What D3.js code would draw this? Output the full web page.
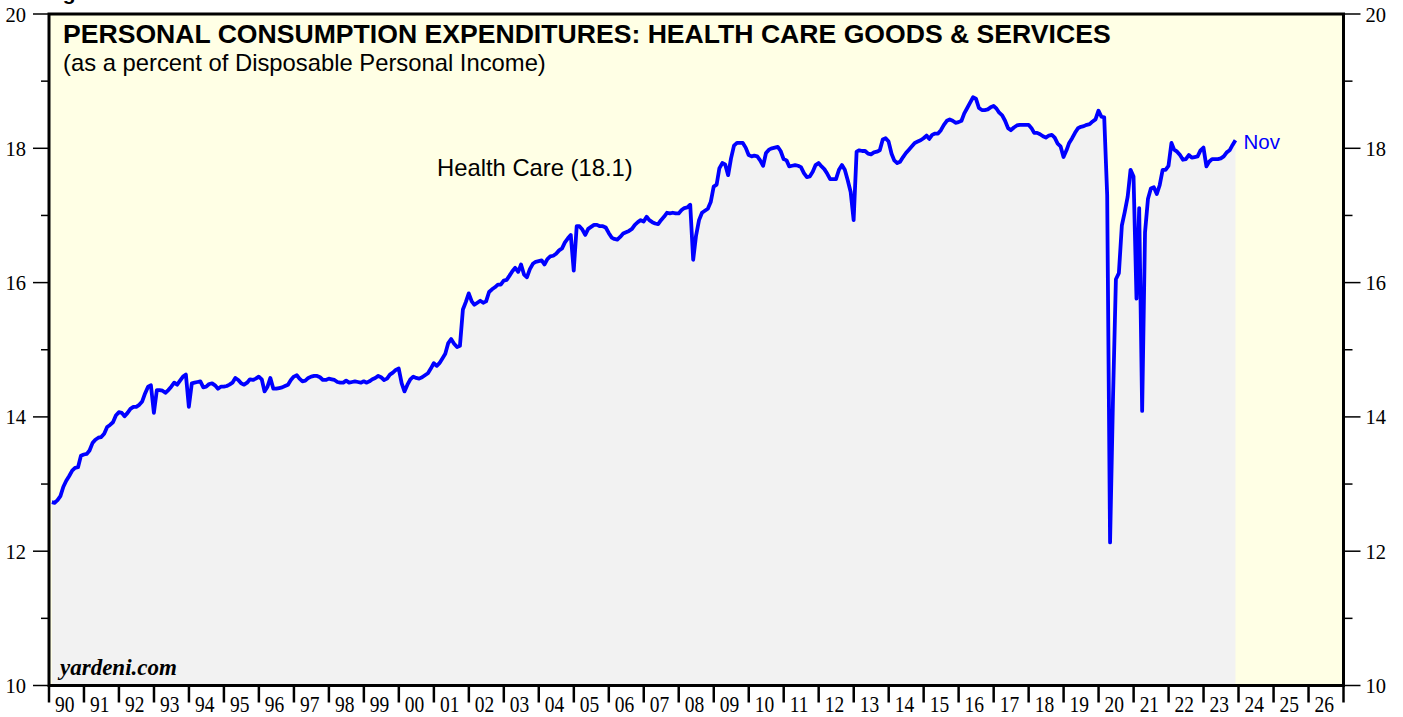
<!DOCTYPE html>
<html>
<head>
<meta charset="utf-8">
<script src="https://cdn.jsdelivr.net/npm/d3@7"></script>
<style>
  body { margin: 0; background: #fff; }
  svg text { font-family: "Liberation Sans", Arial, sans-serif; }
  svg text.serif { font-family: "Liberation Serif", "Times New Roman", serif; }
</style>
</head>
<body>
<div id="chart"></div>
<script>
// Monthly values, % of disposable personal income
var pce1990s = [
  12.73, 12.72, 12.76, 12.82, 12.96, 13.05, 13.12, 13.20, 13.24, 13.25, 13.42, 13.44,
  13.45, 13.50, 13.61, 13.66, 13.69, 13.70, 13.75, 13.85, 13.88, 13.92, 14.02, 14.07,
  14.06, 14.01, 14.06, 14.12, 14.15, 14.15, 14.18, 14.23, 14.35, 14.45, 14.47, 14.06,
  14.40, 14.40, 14.39, 14.36, 14.40, 14.45, 14.51, 14.48, 14.54, 14.60, 14.63, 14.15,
  14.50, 14.51, 14.52, 14.53, 14.44, 14.45, 14.49, 14.50, 14.47, 14.42, 14.45, 14.45,
  14.46, 14.48, 14.51, 14.58, 14.55, 14.50, 14.48, 14.51, 14.56, 14.55, 14.57, 14.60,
  14.56, 14.38, 14.45, 14.58, 14.42, 14.42, 14.43, 14.44, 14.46, 14.48, 14.55, 14.60,
  14.62, 14.57, 14.53, 14.54, 14.58, 14.60, 14.61, 14.61, 14.59, 14.55, 14.55, 14.57,
  14.56, 14.55, 14.52, 14.51, 14.51, 14.54, 14.51, 14.52, 14.53, 14.52, 14.51, 14.53,
  14.51, 14.53, 14.56, 14.58, 14.61, 14.59, 14.55, 14.57, 14.63, 14.66, 14.70, 14.72
]
var pce2000s = [
  14.50, 14.38, 14.48, 14.56, 14.60, 14.58, 14.57, 14.59, 14.62, 14.65, 14.72, 14.80,
  14.76, 14.80, 14.87, 14.94, 15.10, 15.16, 15.09, 15.04, 15.06, 15.60, 15.71, 15.84,
  15.72, 15.67, 15.70, 15.73, 15.70, 15.72, 15.86, 15.90, 15.93, 15.97, 15.97, 16.03,
  16.04, 16.10, 16.17, 16.22, 16.16, 16.27, 16.12, 16.08, 16.20, 16.28, 16.31, 16.32,
  16.33, 16.27, 16.35, 16.39, 16.40, 16.43, 16.48, 16.51, 16.60, 16.66, 16.71, 16.18,
  16.84, 16.84, 16.79, 16.71, 16.80, 16.83, 16.86, 16.86, 16.84, 16.84, 16.82, 16.74,
  16.67, 16.65, 16.64, 16.68, 16.73, 16.75, 16.77, 16.80, 16.86, 16.90, 16.93, 16.91,
  16.98, 16.93, 16.90, 16.88, 16.87, 16.93, 16.98, 17.04, 17.03, 17.04, 17.03, 17.03,
  17.08, 17.11, 17.12, 17.16, 16.34, 16.70, 16.93, 17.04, 17.07, 17.10, 17.20, 17.43,
  17.46, 17.70, 17.78, 17.76, 17.60, 17.85, 18.04, 18.08, 18.08, 18.08, 18.01, 17.90
]
var pce2010s = [
  17.88, 17.89, 17.88, 17.82, 17.74, 17.93, 17.98, 18.00, 18.01, 18.02, 17.96, 17.84,
  17.82, 17.73, 17.74, 17.75, 17.74, 17.72, 17.63, 17.57, 17.58, 17.65, 17.75, 17.78,
  17.73, 17.69, 17.62, 17.54, 17.54, 17.54, 17.68, 17.75, 17.68, 17.52, 17.35, 16.93,
  17.95, 17.97, 17.96, 17.96, 17.92, 17.91, 17.94, 17.95, 17.97, 18.13, 18.15, 18.10,
  17.92, 17.82, 17.78, 17.80, 17.87, 17.93, 17.98, 18.03, 18.08, 18.10, 18.12, 18.15,
  18.19, 18.14, 18.20, 18.22, 18.22, 18.27, 18.35, 18.41, 18.43, 18.41, 18.38, 18.39,
  18.41, 18.52, 18.60, 18.68, 18.76, 18.74, 18.60, 18.57, 18.57, 18.58, 18.61, 18.63,
  18.59, 18.53, 18.49, 18.41, 18.30, 18.27, 18.31, 18.34, 18.35, 18.35, 18.35, 18.35,
  18.30, 18.23, 18.23, 18.21, 18.18, 18.16, 18.19, 18.20, 18.16, 18.07, 18.03, 17.87,
  17.97, 18.08, 18.15, 18.23, 18.30, 18.32, 18.33, 18.35, 18.36, 18.40, 18.43, 18.56
]
var pce2020s = [
  18.47, 18.46, 17.30, 12.13, 14.30, 16.05, 16.14, 16.85, 17.05, 17.28, 17.68, 17.58,
  15.76, 17.11, 14.09, 16.75, 17.25, 17.40, 17.42, 17.32, 17.45, 17.68, 17.68, 17.74,
  18.08, 17.98, 17.95, 17.90, 17.83, 17.84, 17.90, 17.86, 17.87, 17.88, 17.97, 18.01,
  17.73, 17.80, 17.84, 17.84, 17.84, 17.85, 17.88, 17.94, 17.97, 18.05, 18.12
]
var yearTicks = d3.range(1990, 2028)
var yearLabels = d3.range(1990, 2027).map(function (yr) { return String(yr).slice(2) })
var yMajor = [10, 12, 14, 16, 18, 20]
var yMinor = [11, 13, 15, 17, 19]

var title = "PERSONAL CONSUMPTION EXPENDITURES: HEALTH CARE GOODS & SERVICES",
    subtitle = "(as a percent of Disposable Personal Income)",
    seriesLabel = "Health Care (18.1)",
    lastLabel = "Nov"

// Month-end dates starting Jan 1990
var values = pce1990s.concat(pce2000s, pce2010s, pce2020s)
var data = values.map(function (v, i) {
  return { date: new Date(1990, i + 1, 0), value: v }
})

var width = 1403, height = 717
var plotLeft = 49, plotRight = 1343.5, plotTop = 14, plotBottom = 685.5

var svg = d3.select("#chart").append("svg")
  .attr("width", width)
  .attr("height", height)

var x = d3.scaleTime()
  .domain([new Date(1990, 0, 1), new Date(2027, 0, 1)])
  .range([plotLeft, plotRight])
var y = d3.scaleLinear()
  .domain([10, 20])
  .range([plotBottom, plotTop])

svg.append("defs").append("clipPath").attr("id", "plot")
  .append("rect")
    .attr("x", plotLeft).attr("y", plotTop)
    .attr("width", plotRight - plotLeft).attr("height", plotBottom - plotTop)

// Background
svg.append("rect")
  .attr("x", plotLeft).attr("y", plotTop)
  .attr("width", plotRight - plotLeft).attr("height", plotBottom - plotTop)
  .attr("fill", "#ffffe5")

var plot = svg.append("g").attr("clip-path", "url(#plot)")

plot.append("path")
  .datum(data)
  .attr("fill", "#f2f2f2")
  .attr("d", d3.area()
    .x(function (d) { return x(d.date) })
    .y0(plotBottom)
    .y1(function (d) { return y(d.value) }))

plot.append("path")
  .datum(data)
  .attr("fill", "none")
  .attr("stroke", "#0000ff")
  .attr("stroke-width", 3.8)
  .attr("stroke-linejoin", "round")
  .attr("d", d3.line()
    .x(function (d) { return x(d.date) })
    .y(function (d) { return y(d.value) }))

// Frame
svg.append("rect")
  .attr("x", plotLeft).attr("y", plotTop)
  .attr("width", plotRight - plotLeft).attr("height", plotBottom - plotTop)
  .attr("fill", "none")
  .attr("stroke", "#000")
  .attr("stroke-width", 3)

// Y ticks both sides
var axisG = svg.append("g").attr("stroke", "#000").attr("stroke-width", 1.5)
yMajor.forEach(function (v) {
  axisG.append("line").attr("x1", plotLeft - 16).attr("x2", plotLeft).attr("y1", y(v)).attr("y2", y(v))
  axisG.append("line").attr("x1", plotRight).attr("x2", plotRight + 17).attr("y1", y(v)).attr("y2", y(v))
})
yMinor.forEach(function (v) {
  axisG.append("line").attr("x1", plotLeft - 8).attr("x2", plotLeft).attr("y1", y(v)).attr("y2", y(v))
  axisG.append("line").attr("x1", plotRight).attr("x2", plotRight + 9).attr("y1", y(v)).attr("y2", y(v))
})
yMajor.forEach(function (v) {
  svg.append("text").attr("class", "serif")
    .attr("x", 26).attr("y", y(v) + 7.5)
    .attr("text-anchor", "end")
    .attr("font-size", 20.5)
    .text(v)
  svg.append("text").attr("class", "serif")
    .attr("x", plotRight + 22).attr("y", y(v) + 7.5)
    .attr("font-size", 20.5)
    .text(v)
})

// X ticks (years)
yearTicks.forEach(function (yr) {
  svg.append("line")
    .attr("x1", x(new Date(yr, 0, 1))).attr("x2", x(new Date(yr, 0, 1)))
    .attr("y1", plotBottom).attr("y2", plotBottom + 17)
    .attr("stroke", "#000").attr("stroke-width", 2.5)
})
yearLabels.forEach(function (lab, i) {
  var tx = x(new Date(1990 + i, 0, 1)) + 6
  svg.append("text").attr("class", "serif")
    .attr("transform", "translate(" + tx + "," + (plotBottom + 26) + ") scale(1,1.15)")
    .attr("font-size", 19.5)
    .text(lab)
})

// Titles and labels
svg.append("text")
  .attr("x", 44).attr("y", 0)
  .attr("font-size", 21).attr("font-weight", "bold")
  .text("Figure")
svg.append("text")
  .attr("x", 63).attr("y", 43)
  .attr("font-size", 26.6).attr("font-weight", "bold")
  .text(title)
svg.append("text")
  .attr("x", 63).attr("y", 71)
  .attr("font-size", 23.8)
  .text(subtitle)
svg.append("text")
  .attr("x", 437).attr("y", 176)
  .attr("font-size", 23.8)
  .text(seriesLabel)
svg.append("text")
  .attr("x", x(data[data.length - 1].date) + 8).attr("y", 149)
  .attr("font-size", 20.5)
  .attr("fill", "#0000ff")
  .text(lastLabel)
svg.append("text").attr("class", "serif")
  .attr("x", 60).attr("y", 675)
  .attr("font-size", 23).attr("font-weight", "bold").attr("font-style", "italic")
  .text("yardeni.com")
</script>
</body>
</html>
